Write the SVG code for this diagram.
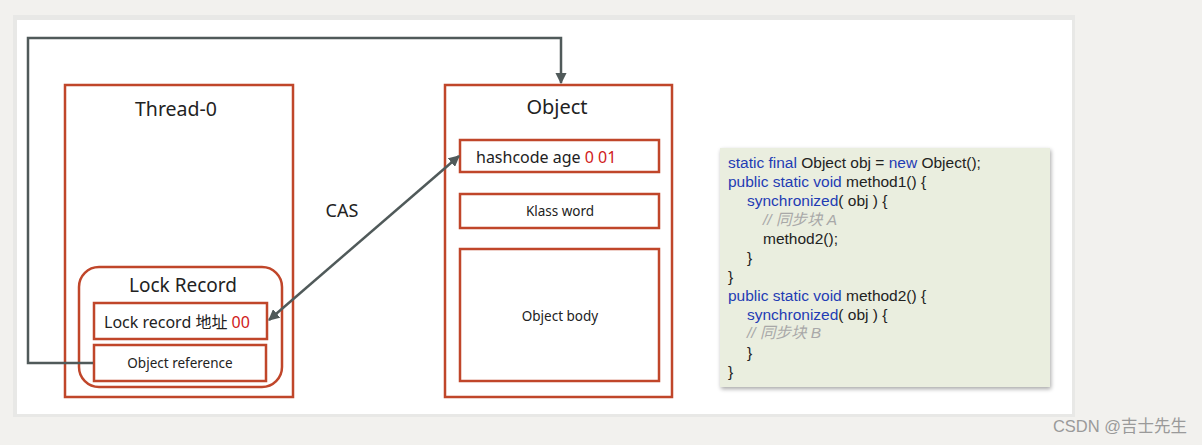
<svg xmlns="http://www.w3.org/2000/svg" width="1202" height="445" viewBox="0 0 1202 445">
<style>
.box{fill:#fff;stroke:#c0462a;stroke-width:2.5}
.t{font-family:"Noto Sans","Open Sans","Noto Sans CJK SC",sans-serif;fill:#222}
.c{font-family:"Liberation Sans","Noto Sans CJK SC",sans-serif;font-size:15.5px;fill:#222}
.k{fill:#1f3cb4}
.cm{fill:#a8a8a8;font-style:italic}
.red{fill:#d0201a}
.conn{fill:none;stroke:#505a5a;stroke-width:2.5}
</style>
<defs>
<marker id="ah" viewBox="0 0 10 10" refX="9" refY="5" markerWidth="4.5" markerHeight="4.5" orient="auto-start-reverse" markerUnits="strokeWidth">
<path d="M0,0 L10,5 L0,10 z" fill="#505a5a"/>
</marker>
<filter id="sh" x="-5%" y="-5%" width="110%" height="110%">
<feGaussianBlur in="SourceAlpha" stdDeviation="2"/>
<feOffset dx="1" dy="2"/>
<feComponentTransfer><feFuncA type="linear" slope="0.35"/></feComponentTransfer>
<feMerge><feMergeNode/><feMergeNode in="SourceGraphic"/></feMerge>
</filter>
</defs>
<rect x="0" y="0" width="1202" height="445" fill="#f2f1ee"/>
<rect x="13" y="15" width="1062" height="402" fill="#e8e8e6"/>
<rect x="17" y="20" width="1055" height="394" fill="#ffffff"/>

<g id="thread0">
<rect class="box" x="65" y="85" width="228" height="312"/>
<text class="t" x="176" y="116" font-size="19.5" text-anchor="middle">Thread-0</text>
</g>
<g id="lockRecord">
<rect class="box" x="79" y="267" width="203" height="120" rx="20"/>
<text class="t" x="183" y="292" font-size="19" text-anchor="middle">Lock Record</text>
</g>
<g id="lockRecordAddr">
<rect class="box" x="94" y="303" width="173" height="36"/>
<text class="t" x="104" y="328" font-size="16">Lock record 地址 <tspan class="red">00</tspan></text>
</g>
<g id="objectReference">
<rect class="box" x="94" y="345" width="172" height="36"/>
<text class="t" x="180" y="368" font-size="13.5" text-anchor="middle">Object reference</text>
</g>

<g id="object">
<rect class="box" x="445" y="85" width="227" height="312"/>
<text class="t" x="557" y="114" font-size="20" text-anchor="middle">Object</text>
</g>
<g id="hashcode">
<rect class="box" x="460" y="140" width="199" height="32"/>
<text class="t" x="476" y="163" font-size="16">hashcode age <tspan class="red">0 01</tspan></text>
</g>
<g id="klassWord">
<rect class="box" x="460" y="194" width="199" height="34"/>
<text class="t" x="560" y="216" font-size="13.5" text-anchor="middle">Klass word</text>
</g>
<g id="objectBody">
<rect class="box" x="460" y="249" width="199" height="132"/>
<text class="t" x="560" y="321" font-size="13.5" text-anchor="middle">Object body</text>
</g>

<g id="cas">
<text class="t" x="342" y="217" font-size="18" text-anchor="middle">CAS</text>
</g>

<g id="connectors">
<path class="conn" d="M93,363 L28,363 L28,38 L561,38 L561,83" marker-end="url(#ah)"/>
<path class="conn" d="M269,320 L459,156" marker-start="url(#ah)" marker-end="url(#ah)"/>
</g>

<g id="code">
<rect x="720" y="148" width="330" height="239" fill="#eaeedf" filter="url(#sh)"/>
<text class="c" x="728" y="168"><tspan class="k">static final</tspan> Object obj = <tspan class="k">new</tspan> Object();</text>
<text class="c" x="728" y="187"><tspan class="k">public static void</tspan> method1() {</text>
<text class="c" x="747" y="206"><tspan class="k">synchronized</tspan>( obj ) {</text>
<text class="c cm" x="763" y="225">// 同步块 A</text>
<text class="c" x="763" y="244">method2();</text>
<text class="c" x="747" y="263">}</text>
<text class="c" x="728" y="282">}</text>
<text class="c" x="728" y="301"><tspan class="k">public static void</tspan> method2() {</text>
<text class="c" x="747" y="320"><tspan class="k">synchronized</tspan>( obj ) {</text>
<text class="c cm" x="747" y="338">// 同步块 B</text>
<text class="c" x="747" y="358">}</text>
<text class="c" x="728" y="377">}</text>
</g>

<text x="1187" y="432" font-family="'Liberation Sans','Noto Sans CJK SC',sans-serif" font-size="16.5" fill="#9a9a9a" text-anchor="end">CSDN @吉士先生</text>
</svg>
